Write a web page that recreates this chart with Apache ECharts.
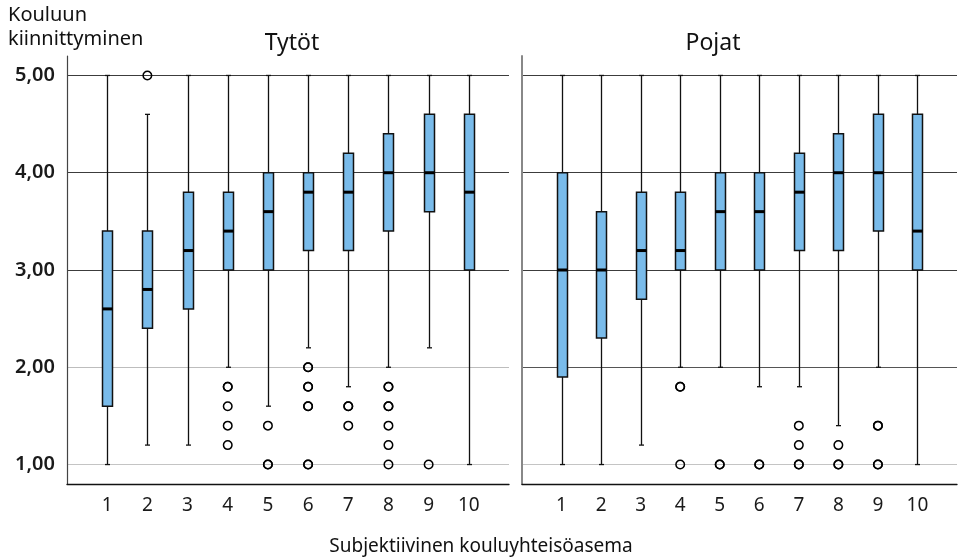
<!DOCTYPE html>
<html>
<head>
<meta charset="utf-8">
<script src="https://cdn.jsdelivr.net/npm/echarts@6/dist/echarts.min.js"></script>
<style>
html,body{margin:0;padding:0;background:#fff;}
#chart{width:960px;height:559px;}
</style>
</head>
<body>
<div id="chart"></div>
<script>
// ---- Data ----
const categories = ['1','2','3','4','5','6','7','8','9','10'];
const panelTitles = ['Tytöt', 'Pojat'];
const yTickLabels = [1, 2, 3, 4, 5];
const yAxisTitle = 'Kouluun\nkiinnittyminen';
const xAxisTitle = 'Subjektiivinen kouluyhteisöasema';

const girlsLow    = [1.0, 1.2, 1.2, 2.0, 1.6, 2.2, 1.8, 2.0, 2.2, 1.0];
const girlsQ1     = [1.6, 2.4, 2.6, 3.0, 3.0, 3.2, 3.2, 3.4, 3.6, 3.0];
const girlsMedian = [2.6, 2.8, 3.2, 3.4, 3.6, 3.8, 3.8, 4.0, 4.0, 3.8];
const girlsQ3     = [3.4, 3.4, 3.8, 3.8, 4.0, 4.0, 4.2, 4.4, 4.6, 4.6];
const girlsHigh   = [5.0, 4.6, 5.0, 5.0, 5.0, 5.0, 5.0, 5.0, 5.0, 5.0];
const girlsOutliers = [
  [2,5.0],
  [4,1.8],[4,1.8],[4,1.6],[4,1.4],[4,1.2],
  [5,1.4],[5,1.0],[5,1.0],
  [6,2.0],[6,2.0],[6,1.8],[6,1.8],[6,1.6],[6,1.6],[6,1.0],[6,1.0],
  [7,1.6],[7,1.6],[7,1.4],
  [8,1.8],[8,1.8],[8,1.6],[8,1.6],[8,1.4],[8,1.2],[8,1.0],
  [9,1.0]
];

const boysLow    = [1.0, 1.0, 1.2, 2.0, 2.0, 1.8, 1.8, 1.4, 2.0, 1.0];
const boysQ1     = [1.9, 2.3, 2.7, 3.0, 3.0, 3.0, 3.2, 3.2, 3.4, 3.0];
const boysMedian = [3.0, 3.0, 3.2, 3.2, 3.6, 3.6, 3.8, 4.0, 4.0, 3.4];
const boysQ3     = [4.0, 3.6, 3.8, 3.8, 4.0, 4.0, 4.2, 4.4, 4.6, 4.6];
const boysHigh   = [5.0, 5.0, 5.0, 5.0, 5.0, 5.0, 5.0, 5.0, 5.0, 5.0];
const boysOutliers = [
  [4,1.8],[4,1.8],[4,1.0],
  [5,1.0],[5,1.0],
  [6,1.0],[6,1.0],
  [7,1.4],[7,1.2],[7,1.0],[7,1.0],
  [8,1.2],[8,1.0],[8,1.0],
  [9,1.4],[9,1.4],[9,1.0],[9,1.0]
];

// ---- Build ----
function boxData(low, q1, med, q3, high) {
  return categories.map((c, i) => [i + 1, low[i], q1[i], med[i], q3[i], high[i]]);
}
const FONT = '"Noto Sans", "Open Sans", sans-serif';
const Y_MIN = 0.8, Y_MAX = 5.2, Y_INT = 0.2;

function splitColors(intCol) {
  const arr = [];
  const n = Math.round((Y_MAX - Y_MIN) / Y_INT);
  for (let i = 0; i <= n; i++) {
    const v = Math.round((Y_MIN + i * Y_INT) * 10) / 10;
    arr.push(Number.isInteger(v) && yTickLabels.includes(v) ? intCol(v) : 'rgba(0,0,0,0)');
  }
  return arr;
}

function renderBox(params, api) {
  const x = api.value(0);
  const pLow = api.coord([x, api.value(1)]);
  const pQ1 = api.coord([x, api.value(2)]);
  const pMed = api.coord([x, api.value(3)]);
  const pQ3 = api.coord([x, api.value(4)]);
  const pHigh = api.coord([x, api.value(5)]);
  const cx = Math.round(pLow[0]) + 0.5;
  const bw = 5, cw = 2.5;
  const stroke = '#111';
  return {
    type: 'group',
    children: [
      { type: 'line', shape: { x1: cx, y1: pHigh[1], x2: cx, y2: pLow[1] }, style: { stroke: stroke, lineWidth: 1.3 } },
      { type: 'line', shape: { x1: cx - cw, y1: pHigh[1], x2: cx + cw, y2: pHigh[1] }, style: { stroke: stroke, lineWidth: 1.3 } },
      { type: 'line', shape: { x1: cx - cw, y1: pLow[1], x2: cx + cw, y2: pLow[1] }, style: { stroke: stroke, lineWidth: 1.3 } },
      { type: 'rect', shape: { x: cx - bw, y: pQ3[1], width: bw * 2, height: pQ1[1] - pQ3[1] }, style: { fill: '#79bbea', stroke: '#111', lineWidth: 1.5 } },
      { type: 'line', shape: { x1: cx - bw, y1: pMed[1], x2: cx + bw, y2: pMed[1] }, style: { stroke: '#000', lineWidth: 3 } }
    ]
  };
}

const grids = [
  { left: 67, top: 56, width: 442, height: 428 },
  { left: 522, top: 56, width: 442, height: 428 }
];

const xAxes = [0, 1].map(i => ({
  type: 'value', gridIndex: i, min: 0, max: 11, interval: 1,
  axisLine: { show: true, lineStyle: { color: '#111', width: 1.3 } },
  axisTick: { show: false },
  splitLine: { show: false },
  axisLabel: {
    color: '#1a1a1a', fontFamily: FONT, fontSize: 19, margin: 12,
    formatter: v => (v >= 1 && v <= categories.length) ? categories[v - 1] : ''
  }
}));

const yAxes = [0, 1].map(i => ({
  type: 'value', gridIndex: i, min: Y_MIN, max: Y_MAX, interval: Y_INT,
  axisLine: { show: true, lineStyle: { color: i === 0 ? '#444' : '#888', width: i === 0 ? 1.2 : 2 } },
  axisTick: { show: false },
  splitLine: {
    show: true,
    lineStyle: {
      width: 1,
      color: splitColors(v => v === 1 ? '#c4c4c4' : (v === 2 ? (i === 0 ? '#bdbdbd' : '#555') : '#3c3c3c'))
    }
  },
  axisLabel: {
    show: i === 0,
    color: '#1a1a1a', fontFamily: FONT, fontSize: 20, fontWeight: 600, margin: 12,
    formatter: v => {
      const r = Math.round(v * 10) / 10;
      return yTickLabels.includes(r) ? r.toFixed(2).replace('.', ',') : '';
    }
  }
}));

const panels = [
  { box: boxData(girlsLow, girlsQ1, girlsMedian, girlsQ3, girlsHigh), out: girlsOutliers },
  { box: boxData(boysLow, boysQ1, boysMedian, boysQ3, boysHigh), out: boysOutliers }
];

const series = [];
panels.forEach((p, i) => {
  series.push({
    type: 'custom', xAxisIndex: i, yAxisIndex: i,
    encode: { x: 0, y: [1, 2, 3, 4, 5] },
    renderItem: renderBox, data: p.box, z: 2, silent: true
  });
  series.push({
    type: 'scatter', xAxisIndex: i, yAxisIndex: i,
    symbol: 'circle', symbolSize: 8.5,
    itemStyle: { color: 'rgba(255,255,255,0)', borderColor: '#000', borderWidth: 1.5, opacity: 1 },
    data: p.out, z: 3, silent: true
  });
});

const chart = echarts.init(document.getElementById('chart'), null, { renderer: 'canvas' });
chart.setOption({
  animation: false,
  backgroundColor: '#fff',
  grid: grids,
  xAxis: xAxes,
  yAxis: yAxes,
  series: series,
  graphic: [
    { type: 'text', x: 8, y: 3, style: { text: yAxisTitle, font: '20px ' + FONT, fill: '#111', lineHeight: 24 } },
    { type: 'text', x: 292, y: 43, style: { text: panelTitles[0], font: '23px ' + FONT, fill: '#111', align: 'center', verticalAlign: 'middle' } },
    { type: 'text', x: 713, y: 43, style: { text: panelTitles[1], font: '23px ' + FONT, fill: '#111', align: 'center', verticalAlign: 'middle' } },
    { type: 'text', x: 481, y: 547, style: { text: xAxisTitle, font: '19px ' + FONT, fill: '#111', align: 'center', verticalAlign: 'middle' } }
  ]
});
</script>
</body>
</html>
